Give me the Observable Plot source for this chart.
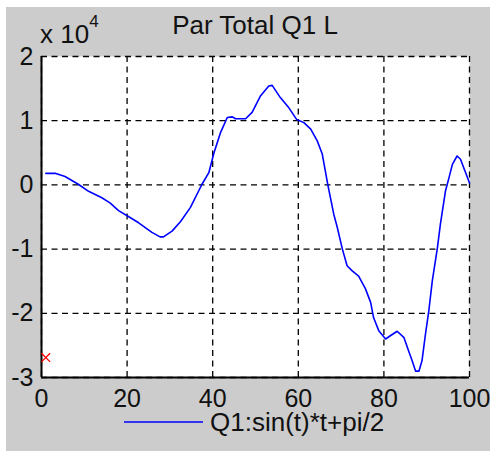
<!DOCTYPE html>
<html><head><meta charset="utf-8">
<script src="https://cdn.jsdelivr.net/npm/d3@7"></script>
<script src="https://cdn.jsdelivr.net/npm/@observablehq/plot@0.6"></script>
<style>
html,body{margin:0;padding:0;background:#fff;width:490px;height:451px;overflow:hidden;}
#fig{position:absolute;left:6px;top:7px;width:484px;height:444px;background:#cccccc;}
#chart{position:absolute;left:0;top:0;}
#overlay{position:absolute;left:0;top:0;}
</style></head><body>
<div id="fig"></div>
<div id="chart"></div>
<svg id="overlay" width="490" height="451"></svg>
<script>
const titleText = "Par Total Q1 L";
const legendLabel = "Q1:sin(t)*t+pi/2";
const xTicks = [0, 20, 40, 60, 80, 100];
const yTicks = [-30000, -20000, -10000, 0, 10000, 20000];
const tX = [1, 3.2, 5.5, 8.6, 11, 14.1, 16, 18, 20.5, 22.7, 25.8, 27.7, 28.5, 30.5, 32.5, 34.8, 37.5, 39.1, 40.3, 41.8, 43.4, 44.6, 45.3, 47.7, 49.2, 51.2, 53.1, 53.9, 55.8, 57.8, 59.6, 61.3, 62.9, 64.4, 65.6, 66.9, 68.3, 69.1, 70.3, 71.4, 72.6, 74.1, 75.7, 76.9, 77.6, 78.8, 80.4, 81.5, 83.1, 84.7, 85.8, 86.5, 87.4, 88.2, 88.9, 89.7, 90.5, 91.3, 92.5, 93.2, 94.4, 95.2, 96.0, 97.1, 97.9, 99.1, 100];
const q1 = [1800, 1800, 1300, 100, -1000, -2000, -2800, -4000, -5000, -5900, -7400, -8100, -8100, -7200, -5700, -3500, 100, 1900, 5000, 8100, 10500, 10600, 10300, 10300, 11300, 13900, 15400, 15500, 13600, 12000, 10200, 9700, 8700, 6900, 4800, 0, -4600, -6600, -10000, -12600, -13400, -14200, -16200, -18300, -20700, -22700, -24000, -23500, -22800, -23800, -25900, -27200, -29000, -29000, -27400, -23300, -19600, -15000, -9800, -6100, -900, 1100, 3200, 4500, 4000, 1900, 300];
const markerX = [1];
const markerY = [-26900];

const pts = tX.map((t, i) => ({t, v: q1[i]}));
const mk = markerX.map((t, i) => ({t, v: markerY[i]}));
const font = "Liberation Sans, Arial, Helvetica, sans-serif";
const grid = {stroke: "black", strokeOpacity: 1, strokeWidth: 1.3, strokeDasharray: "6,4.5"};

const chart = Plot.plot({
  width: 490, height: 451,
  marginLeft: 41, marginRight: 21, marginTop: 56, marginBottom: 74,
  style: {background: "transparent", fontFamily: font, fontSize: "25px", color: "#111"},
  x: {domain: [0, 100], ticks: xTicks, label: null},
  y: {domain: [-30000, 20000], ticks: yTicks, label: null},
  marks: [
    Plot.frame({fill: "white", stroke: null}),
    Plot.gridX(xTicks, grid),
    Plot.gridY(yTicks, grid),
    Plot.ruleX([0], {stroke: "black", strokeWidth: 2}),
    Plot.ruleY([-30000], {stroke: "black", strokeWidth: 2}),
    Plot.line(pts, {x: "t", y: "v", stroke: "#0000ff", strokeWidth: 1.6}),
    Plot.dot(mk, {x: "t", y: "v", symbol: "times", stroke: "red", r: 4, strokeWidth: 1.3}),
    Plot.axisX(xTicks, {tickSize: 0, tickPadding: 12, fontSize: 25, label: null, tickFormat: d => String(d)}),
    Plot.axisY(yTicks, {tickSize: 0, tickPadding: 8, fontSize: 25, label: null, tickFormat: d => String(d / 1e4)})
  ]
});
document.getElementById("chart").append(chart);

const ov = d3.select("#overlay");
ov.append("text").attr("x", 255).attr("y", 34).attr("text-anchor", "middle")
  .attr("font-family", font).attr("font-size", 26).attr("fill", "#111").text(titleText);
const ex = ov.append("text").attr("x", 40).attr("y", 43).attr("font-family", font).attr("font-size", 26).attr("fill", "#111");
ex.append("tspan").text("x 10");
ex.append("tspan").attr("font-size", 17).attr("dy", -16).text("4");
ov.append("line").attr("x1", 124).attr("x2", 203).attr("y1", 422).attr("y2", 422)
  .attr("stroke", "#0000ff").attr("stroke-width", 1.6);
ov.append("text").attr("x", 210).attr("y", 431).attr("font-family", font).attr("font-size", 26)
  .attr("fill", "#111").text(legendLabel);
</script>
</body></html>
